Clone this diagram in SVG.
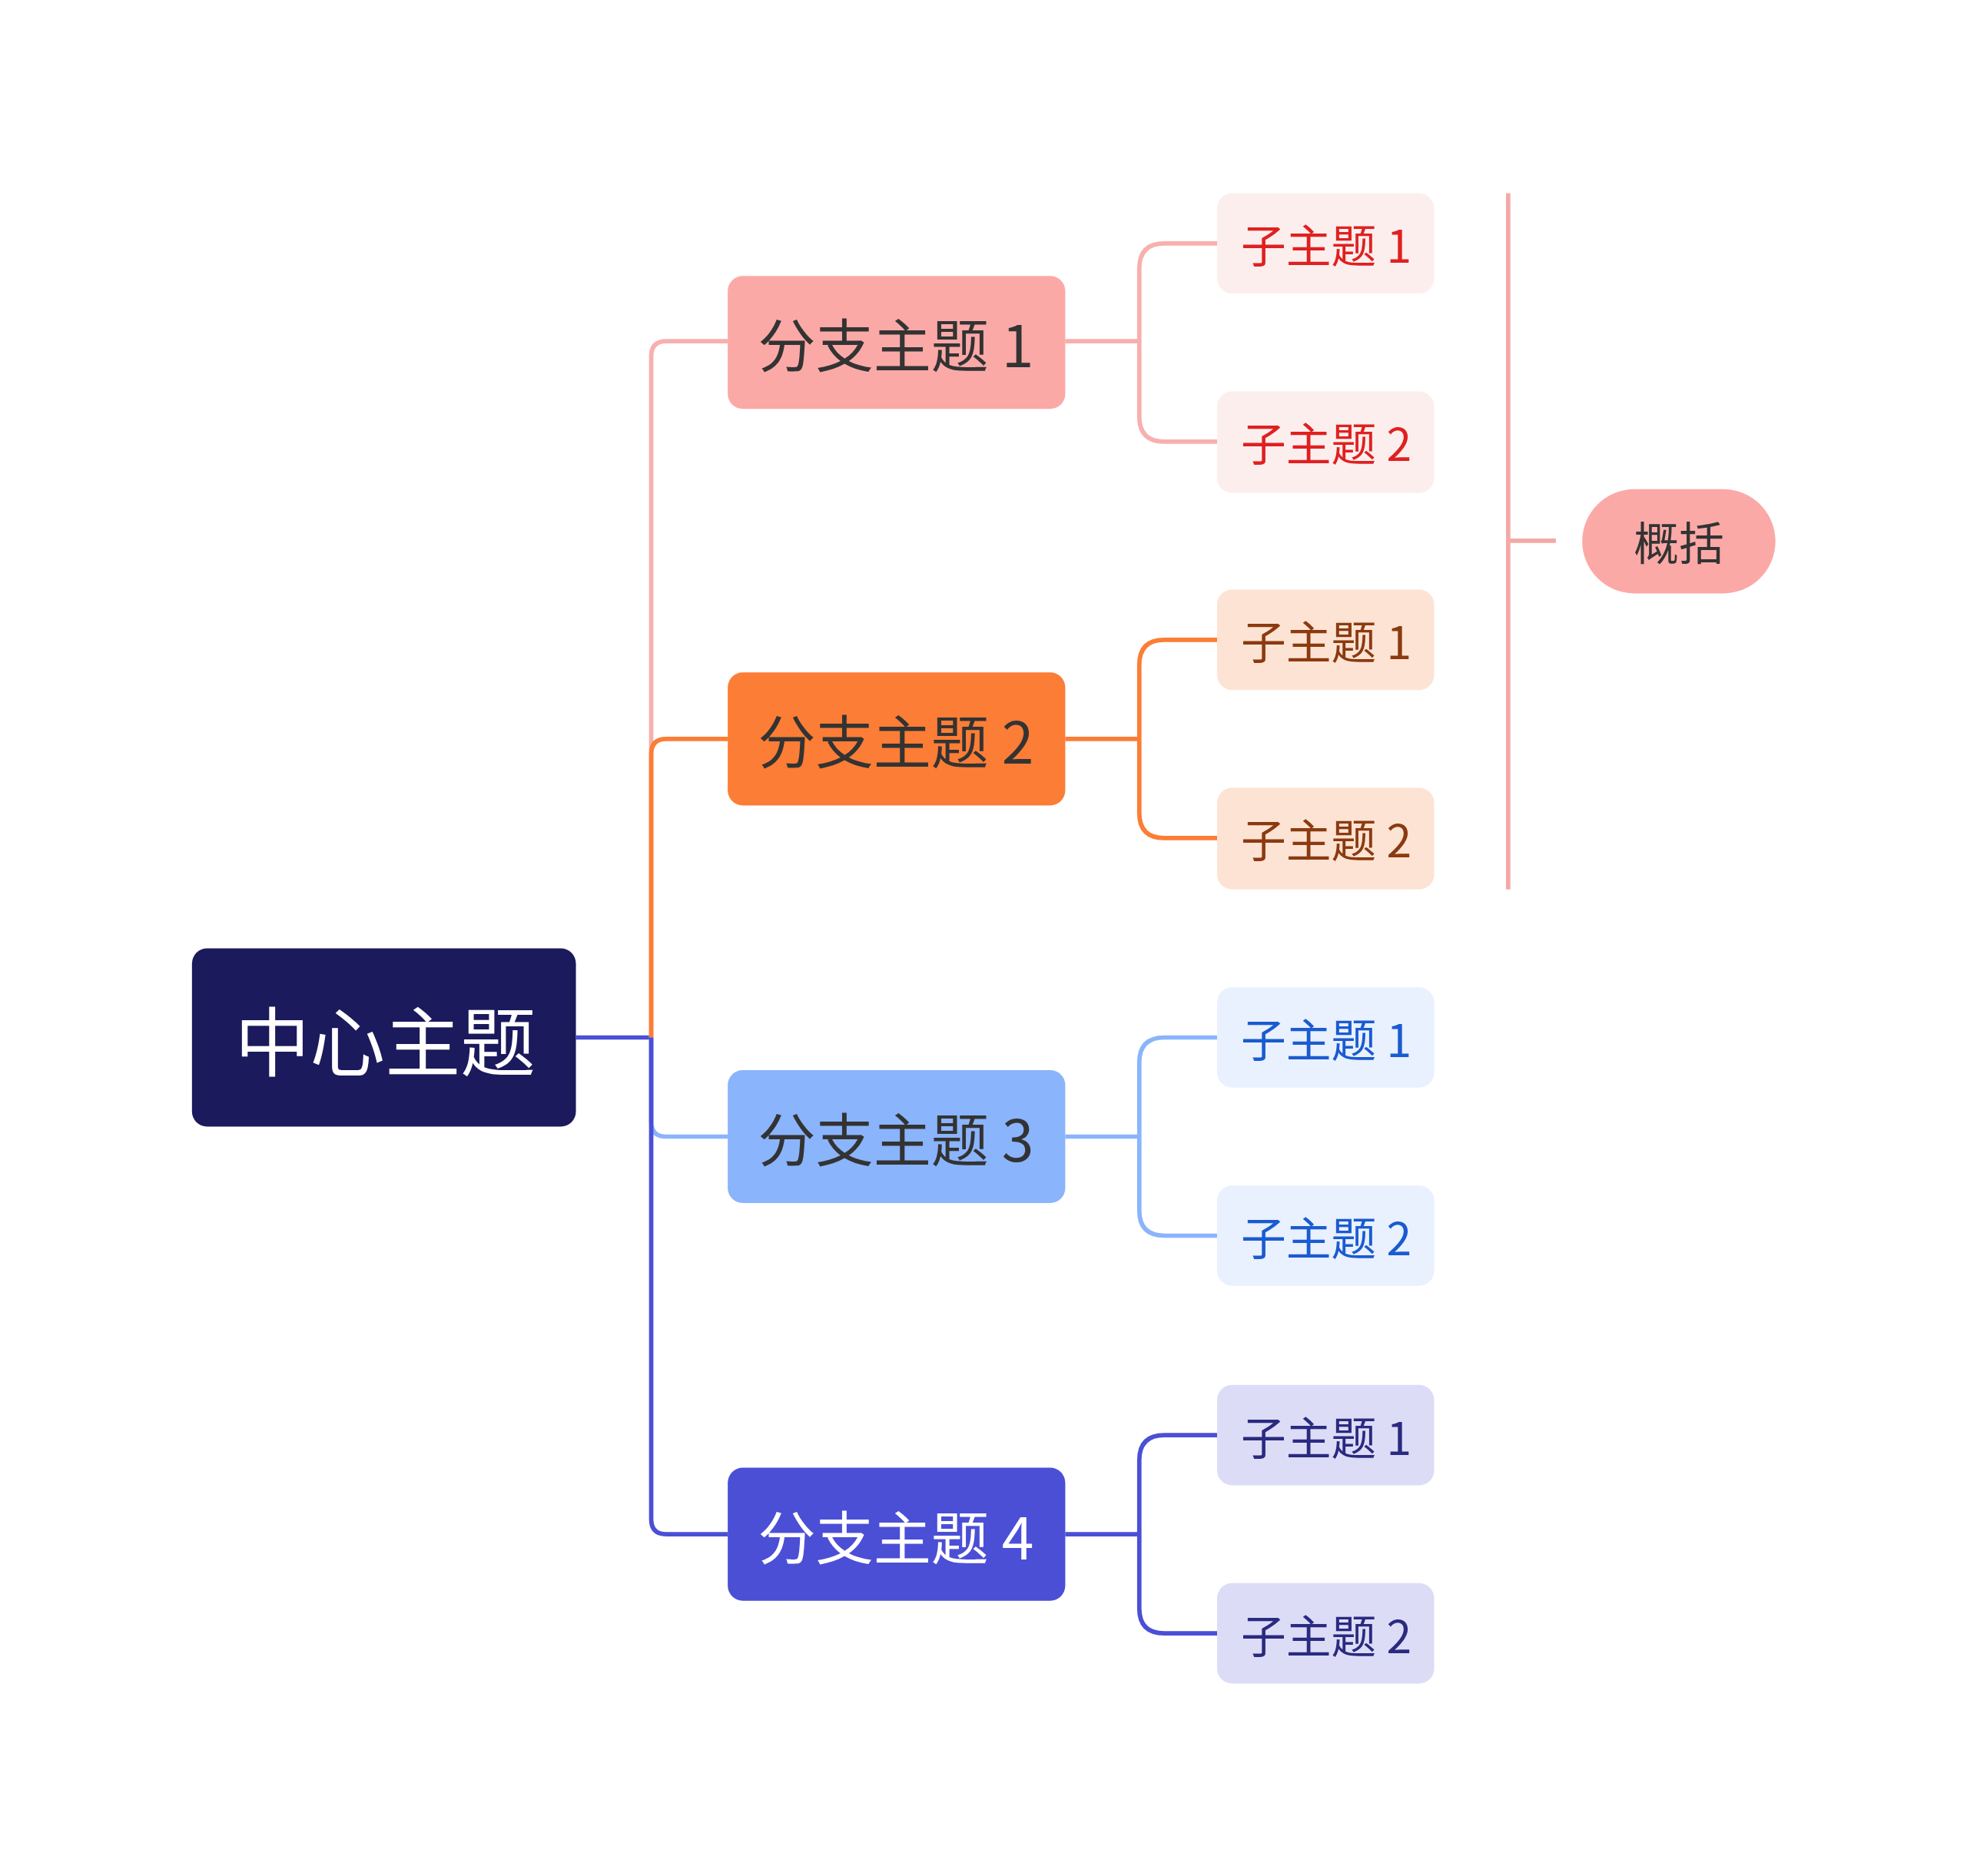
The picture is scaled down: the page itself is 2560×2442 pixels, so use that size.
<svg xmlns="http://www.w3.org/2000/svg" width="2560" height="2442" viewBox="0 0 2560 2442">
<style>
text{font-family:"Noto Sans CJK SC","Noto Sans",sans-serif;text-anchor:middle;dominant-baseline:central}
.c{fill:none;stroke-width:3.5}
.b{font-size:46px}
.s{font-size:36px}
</style>
<rect width="2560" height="2442" fill="#fff"/>
<g transform="scale(1.633)">
<g id="connectors">
<path class="c" stroke="#4b4fd6" d="M459,827H519"/>
<path class="c" stroke="#f7b0ae" d="M519,827V284Q519,272 531,272H580"/>
<path class="c" stroke="#fc7d35" d="M519,827V601Q519,589 531,589H580"/>
<path class="c" stroke="#8ab4fb" d="M519,827V894Q519,906 531,906H580"/>
<path class="c" stroke="#4b4fd6" d="M519,827V1211Q519,1223 531,1223H580"/>
<path class="c" stroke="#f7b0ae" d="M849,272H908M970,194H928Q908,194 908,214V332Q908,352 928,352H970"/>
<path class="c" stroke="#fc7d35" d="M849,589H908M970,510H928Q908,510 908,530V648Q908,668 928,668H970"/>
<path class="c" stroke="#8ab4fb" d="M849,906H908M970,827H928Q908,827 908,847V965Q908,985 928,985H970"/>
<path class="c" stroke="#4b4fd6" d="M849,1223H908M970,1144H928Q908,1144 908,1164V1282Q908,1302 928,1302H970"/>
<path class="c" stroke="#f4a9a7" d="M1202,154V709M1202,431H1240"/>
</g>
<g id="center"><rect x="153" y="756" width="306" height="142" rx="12" fill="#1b1a5c"/><text x="307" y="827" font-size="60" fill="#fff">中心主题</text></g>
<g id="b1"><rect x="580" y="220" width="269" height="106" rx="12" fill="#fba9a7"/><text class="b" x="714" y="273" fill="#333">分支主题 1</text></g>
<g id="b2"><rect x="580" y="536" width="269" height="106" rx="12" fill="#fc7d35"/><text class="b" x="714" y="589" fill="#333">分支主题 2</text></g>
<g id="b3"><rect x="580" y="853" width="269" height="106" rx="12" fill="#8ab4fb"/><text class="b" x="714" y="906" fill="#333">分支主题 3</text></g>
<g id="b4"><rect x="580" y="1170" width="269" height="106" rx="12" fill="#4b4fd6"/><text class="b" x="714" y="1223" fill="#fff">分支主题 4</text></g>
<g id="s11"><rect x="970" y="154" width="173" height="80" rx="12" fill="#fdeeee"/><text class="s" x="1057" y="194" fill="#e02020">子主题 1</text></g>
<g id="s12"><rect x="970" y="312" width="173" height="81" rx="12" fill="#fdeeee"/><text class="s" x="1057" y="352" fill="#e02020">子主题 2</text></g>
<g id="s21"><rect x="970" y="470" width="173" height="80" rx="12" fill="#fde3d3"/><text class="s" x="1057" y="510" fill="#8b3a10">子主题 1</text></g>
<g id="s22"><rect x="970" y="628" width="173" height="81" rx="12" fill="#fde3d3"/><text class="s" x="1057" y="668" fill="#8b3a10">子主题 2</text></g>
<g id="s31"><rect x="970" y="787" width="173" height="80" rx="12" fill="#e9f0fe"/><text class="s" x="1057" y="827" fill="#1a5bd0">子主题 1</text></g>
<g id="s32"><rect x="970" y="945" width="173" height="80" rx="12" fill="#e9f0fe"/><text class="s" x="1057" y="985" fill="#1a5bd0">子主题 2</text></g>
<g id="s41"><rect x="970" y="1104" width="173" height="80" rx="12" fill="#dcdcf6"/><text class="s" x="1057" y="1144" fill="#2a2a80">子主题 1</text></g>
<g id="s42"><rect x="970" y="1262" width="173" height="80" rx="12" fill="#dcdcf6"/><text class="s" x="1057" y="1302" fill="#2a2a80">子主题 2</text></g>
<g id="summary"><rect x="1261" y="390" width="154" height="83" rx="41.5" fill="#fba9a7"/><text x="1338" y="431" font-size="36" fill="#333">概括</text></g>
</g>
</svg>
